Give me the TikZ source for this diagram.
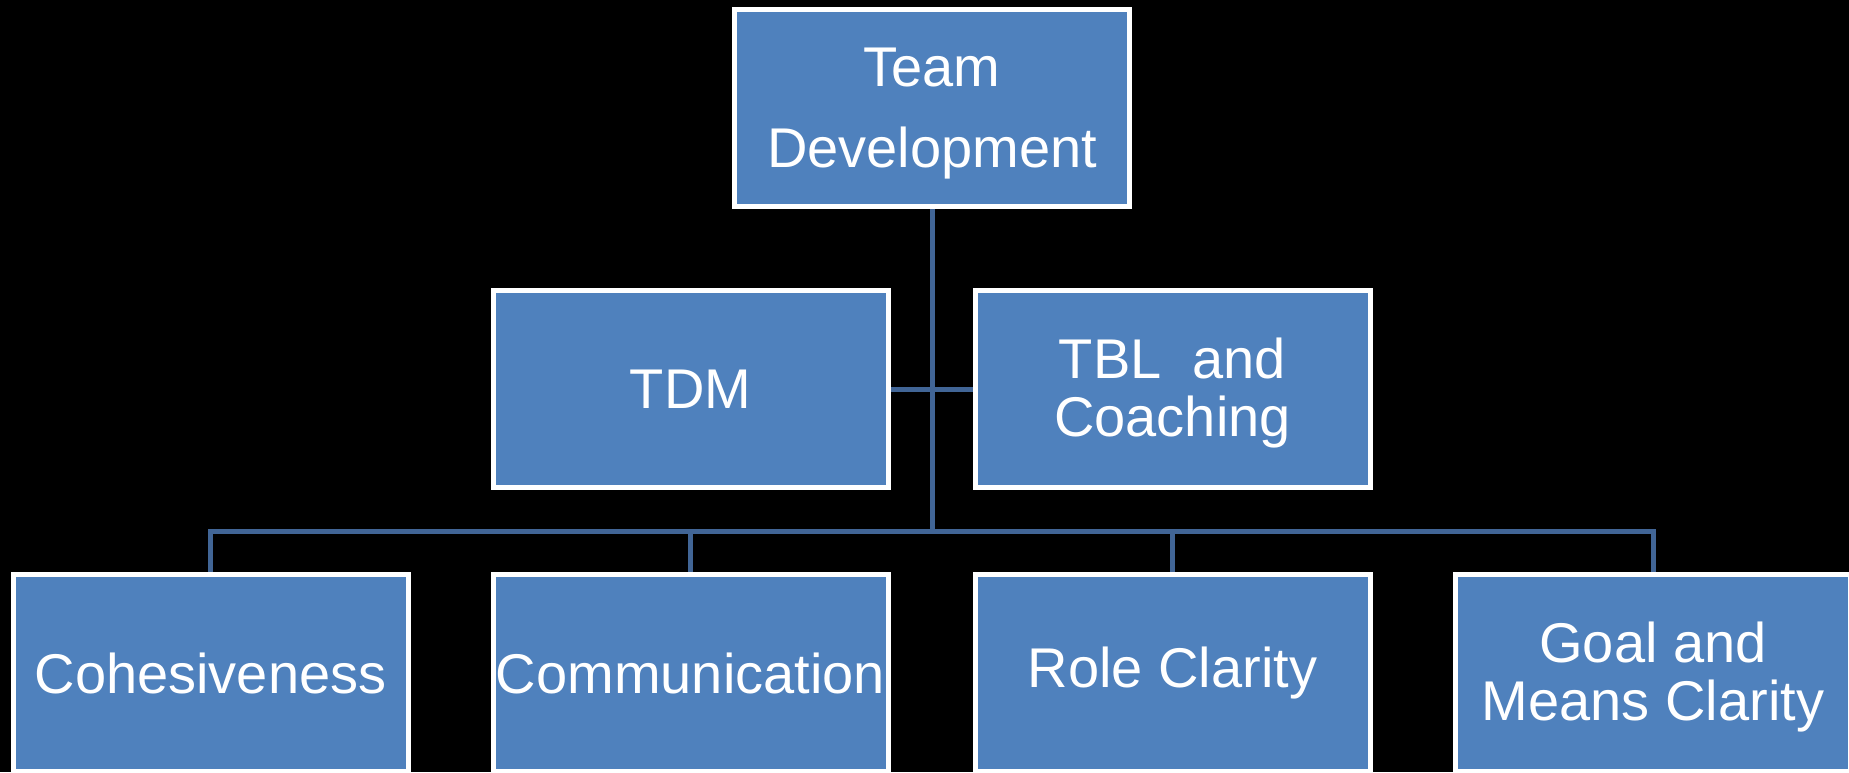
\documentclass[tikz,border=0pt]{standalone}
\usepackage{fontspec}
\setmainfont{Liberation Sans}
\usetikzlibrary{backgrounds}
\definecolor{boxfill}{RGB}{79,129,189}
\definecolor{linkblue}{RGB}{65,101,150}
% taller first line keeps two-line labels optically centred
\newcommand{\toprow}{\rule{0pt}{37pt}}
\begin{document}
\begin{tikzpicture}[x=0.75pt,y=-0.75pt,
  unit/.style={draw=white, line width=3.75pt, fill=boxfill, text=white,
    minimum width=296.25pt, minimum height=147.75pt, inner sep=0pt,
    align=center, font=\fontsize{42}{43.5}\selectfont},
  link/.style={draw=linkblue, line width=3.75pt}]
\useasboundingbox (0,0) rectangle (1849,772);

% top of the hierarchy
\node[unit, font=\fontsize{42}{60.75}\selectfont] (td) at (932,108) {\toprow Team\\Development};

% middle row
\node[unit] (tdm) at (690.5,389) {TDM};
\node[unit] (tbl) at (1172.5,389) {\toprow TBL\ \ and\\Coaching};

% bottom row
\node[unit] (coh)  at (210.5,673)  {Cohesiveness};
\node[unit] (com)  at (690.5,673)  {Communication};
\node[unit] (role) at (1172.5,673) {Role Clarity};
\node[unit] (goal) at (1653,673) {\toprow Goal and\\Means Clarity};

\coordinate (bus) at (932,531);

\begin{scope}[on background layer]
  \fill[black] (0,0) rectangle (1849,772);
  \draw[link] (td.south) -- (bus);
  \draw[link] (tdm.east) -- (tbl.west);
  \draw[link] (coh.north) -- (coh.north |- bus) -- (goal.north |- bus) -- (goal.north);
  \draw[link] (com.north |- bus) -- (com.north);
  \draw[link] (role.north |- bus) -- (role.north);
\end{scope}
\end{tikzpicture}
\end{document}
